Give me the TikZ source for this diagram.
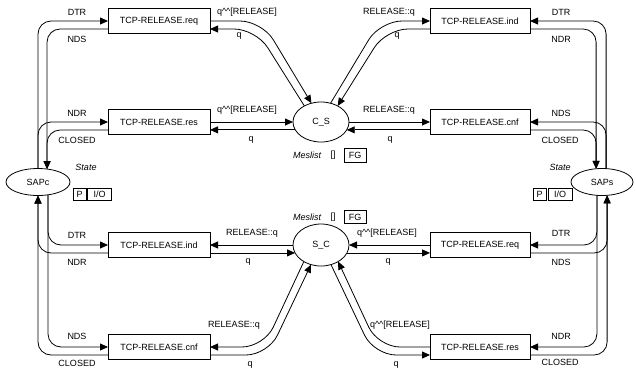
\documentclass[tikz,border=0pt]{standalone}
\usepackage{fontspec}
\setmainfont{Liberation Sans}
\usetikzlibrary{arrows.meta,calc,shapes.geometric}
\begin{document}
\begin{tikzpicture}[x=1pt,y=-1pt,
  every node/.style={font=\fontsize{9}{10}\selectfont, inner sep=0pt, outer sep=0pt},
  prim/.style={draw, line width=0.8pt, minimum height=25pt},
  primL/.style={prim, minimum width=102pt},
  primR/.style={prim, minimum width=100pt},
  place/.style={draw, ellipse, line width=0.8pt},
  tag/.style={draw, line width=0.7pt, minimum height=12pt},
  kind/.style={font=\fontsize{9}{10}\selectfont\itshape},
  arc/.style={line width=0.8pt, rounded corners=13pt, -{Triangle[length=8pt,width=7pt]}},
  link/.style={arc, rounded corners=22pt},
]
\useasboundingbox (0,0) rectangle (636,370);

% service primitives
\node[primL] (reqL) at (159,21)  {TCP-RELEASE.req};
\node[primL] (resL) at (159,122) {TCP-RELEASE.res};
\node[primL] (indL) at (159,245) {TCP-RELEASE.ind};
\node[primL] (cnfL) at (159,347) {TCP-RELEASE.cnf};
\node[primR] (indR) at (480,21)  {TCP-RELEASE.ind};
\node[primR] (cnfR) at (480,122) {TCP-RELEASE.cnf};
\node[primR] (reqR) at (480,245) {TCP-RELEASE.req};
\node[primR] (resR) at (480,347) {TCP-RELEASE.res};

% places
\node[place, minimum width=56pt, minimum height=40pt] (CS) at (321,122) {C\_S};
\node[place, minimum width=56pt, minimum height=42pt] (SC) at (321,245) {S\_C};
\node[place, minimum width=64pt, minimum height=27pt] (SAPc) at (38,182) {SAPc};
\node[place, minimum width=62pt, minimum height=27pt] (SAPs) at (602,182) {SAPs};

% place inscriptions
\node[kind] (stC) at (86,167) {State};
\node[tag, minimum width=13pt] (pC) at (79.5,194) {P};
\node[tag, minimum width=24pt] (ioC) at (99.5,194) {I/O};
\node[kind] (stS) at (560,167) {State};
\node[tag, minimum width=13pt] (pS) at (539.5,194) {P};
\node[tag, minimum width=24pt] (ioS) at (560,194) {I/O};
\node[kind] (mlCS) at (307,155) {Meslist};
\node (ivCS) at (333,155) {[]};
\node[tag, minimum width=22pt, minimum height=14pt] (fgCS) at (355,155) {FG};
\node[kind] (mlSC) at (307,217) {Meslist};
\node (ivSC) at (333,217) {[]};
\node[tag, minimum width=22pt, minimum height=13pt] (fgSC) at (355,217) {FG};

% client access point
\draw[arc] (SAPc.north) |- (reqL.west);
\draw[arc] ($(reqL.west)+(0,8)$) -| (SAPc.55);
\draw[arc] (SAPc.north) |- (resL.west);
\draw[arc] ($(resL.west)+(0,8)$) -| (SAPc.55);
\draw[arc] (SAPc.308) |- (indL.west);
\draw[arc] ($(indL.west)+(0,8)$) -| (SAPc.south);
\draw[arc] (SAPc.308) |- (cnfL.west);
\draw[arc] ($(cnfL.west)+(0,8)$) -| (SAPc.south);

% server access point
\draw[arc] (SAPs.73) |- (indR.east);
\draw[arc] ($(indR.east)+(0,8)$) -| (SAPs.114);
\draw[arc] (SAPs.73) |- (cnfR.east);
\draw[arc] ($(cnfR.east)+(0,8)$) -| (SAPs.114);
\draw[arc] (SAPs.249) |- (reqR.east);
\draw[arc] ($(reqR.east)+(0,8)$) -| (SAPs.291);
\draw[arc] (SAPs.249) |- (resR.east);
\draw[arc] ($(resR.east)+(0,8)$) -| (SAPs.291);

% channel client -> server
\draw[link] (reqL.east) -- ++(52,0) -- (CS.117);
\draw[link] (CS.136) -- ($(reqL.east)+(46,8)$) -- ($(reqL.east)+(0,8)$);
\draw[link] (CS.63) -- ($(indR.west)+(-50,0)$) -- (indR.west);
\draw[link] ($(indR.west)+(0,8)$) -- ++(-44,0) -- (CS.44);
\draw[arc] (resL.east) -- (CS.west);
\draw[arc] (CS.197) -- (CS.197 -| resL.east);
\draw[arc] (CS.east) -- (cnfR.west);
\draw[arc] (CS.343 -| cnfR.west) -- (CS.343);

% channel server -> client
\draw[arc] (SC.west) -- (indL.east);
\draw[arc] (SC.197 -| indL.east) -- (SC.197);
\draw[arc] (reqR.west) -- (SC.east);
\draw[arc] (SC.343) -- (SC.343 -| reqR.west);
\draw[link] (SC.224) -- ($(cnfL.east)+(54,0)$) -- (cnfL.east);
\draw[link] ($(cnfL.east)+(0,8)$) -- ++(58,0) -- (SC.243);
\draw[link] (resR.west) -- ++(-52,0) -- (SC.316);
\draw[link] (SC.297) -- ($(resR.west)+(-56,8)$) -- ($(resR.west)+(0,8)$);

% arc inscriptions, client side
\node (a1) at (77,12)  {DTR};
\node (a2) at (77,39)  {NDS};
\node (a3) at (77,113) {NDR};
\node (a4) at (77,140) {CLOSED};
\node (a5) at (77,235) {DTR};
\node (a6) at (77,262) {NDR};
\node (a7) at (77,336) {NDS};
\node (a8) at (77,363) {CLOSED};
% arc inscriptions, server side
\node (b1) at (561,12)  {DTR};
\node (b2) at (561,39)  {NDR};
\node (b3) at (561,113) {NDS};
\node (b4) at (560,140) {CLOSED};
\node (b5) at (561,233) {DTR};
\node (b6) at (561,262) {NDS};
\node (b7) at (561,336) {NDR};
\node (b8) at (560,362) {CLOSED};
% arc inscriptions, channels
\node (c1) at (247,12)  {q\textasciicircum\textasciicircum[RELEASE]};
\node (c2) at (239,36)  {q};
\node (c3) at (389,12)  {RELEASE::q};
\node (c4) at (397,36)  {q};
\node (c5) at (247,110) {q\textasciicircum\textasciicircum[RELEASE]};
\node (c6) at (251,140) {q};
\node (c7) at (389,110) {RELEASE::q};
\node (c8) at (390,140) {q};
\node (d1) at (252,233) {RELEASE::q};
\node (d2) at (248,262) {q};
\node (d3) at (387,233) {q\textasciicircum\textasciicircum[RELEASE]};
\node (d4) at (388,262) {q};
\node (d5) at (234,325) {RELEASE::q};
\node (d6) at (250,365) {q};
\node (d7) at (400,325) {q\textasciicircum\textasciicircum[RELEASE]};
\node (d8) at (396,365) {q};
\end{tikzpicture}
\end{document}
